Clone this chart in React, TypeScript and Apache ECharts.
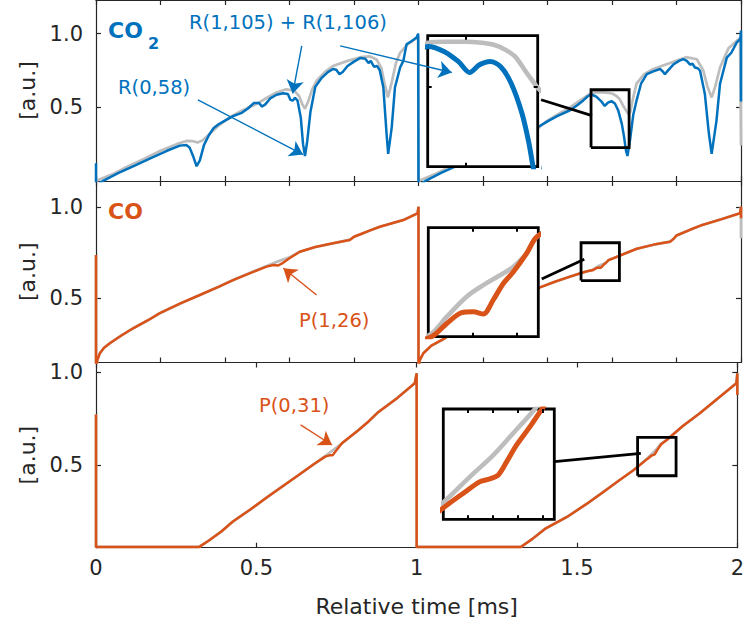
import React, { useEffect, useRef } from "react";
import * as echarts from "echarts";

const BLUE = "#0072BD";
const ORANGE = "#D95319";
const GRAY = "#BDBDBD";
const AX = "#262626";
const FONT = "DejaVu Sans";

// ---------- data (x: relative time [ms], y: [a.u.]) ----------
const co2Reference: number[][] = [
  [0, 0.0], [0.05, 0.045], [0.1, 0.1], [0.15, 0.152], [0.2, 0.205], [0.25, 0.25], [0.28, 0.272], [0.3, 0.27],
  [0.315, 0.262], [0.33, 0.275], [0.36, 0.335], [0.377, 0.37], [0.4, 0.41], [0.425, 0.445], [0.45, 0.475],
  [0.5, 0.525], [0.53, 0.565], [0.56, 0.6], [0.59, 0.622], [0.615, 0.613], [0.63, 0.575], [0.64, 0.52],
  [0.648, 0.49], [0.658, 0.54], [0.67, 0.62], [0.684, 0.68], [0.71, 0.74], [0.735, 0.78], [0.78, 0.815],
  [0.82, 0.84], [0.85, 0.845], [0.87, 0.825], [0.885, 0.765], [0.895, 0.66], [0.905, 0.567], [0.915, 0.65],
  [0.93, 0.8], [0.943, 0.87], [0.965, 0.925], [0.99, 0.962], [0.999, 0.975],
  [1.0, 0.0], [1.05, 0.045], [1.1, 0.1], [1.15, 0.152], [1.2, 0.205], [1.25, 0.25], [1.28, 0.272], [1.3, 0.27],
  [1.315, 0.262], [1.33, 0.275], [1.36, 0.335], [1.377, 0.37], [1.4, 0.41], [1.43, 0.45], [1.47, 0.5],
  [1.5, 0.545], [1.52, 0.575], [1.5357, 0.598], [1.5528, 0.601], [1.5727, 0.601], [1.59, 0.598],
  [1.602, 0.592], [1.613, 0.578], [1.6235, 0.557], [1.6377, 0.498], [1.6518, 0.452], [1.657, 0.47],
  [1.665, 0.56], [1.676, 0.66], [1.7, 0.725], [1.728, 0.76], [1.78, 0.8], [1.83, 0.84], [1.863, 0.826],
  [1.883, 0.75], [1.896, 0.64], [1.909, 0.567], [1.92, 0.64], [1.935, 0.77], [1.961, 0.9], [1.997, 0.97],
  [2.0, 0.24],
];

const co2Measured: number[][] = [
  [0, 0.12], [0.0, -0.03], [0.025, 0.005], [0.07, 0.055], [0.12, 0.105], [0.17, 0.155], [0.22, 0.205],
  [0.26, 0.24], [0.28, 0.245], [0.29, 0.228], [0.3, 0.175], [0.312, 0.1], [0.322, 0.14], [0.335, 0.245],
  [0.35, 0.31], [0.365, 0.36], [0.38, 0.385], [0.4, 0.41], [0.425, 0.44], [0.45, 0.46], [0.47, 0.49],
  [0.49, 0.53], [0.505, 0.53], [0.515, 0.505], [0.525, 0.52], [0.54, 0.56], [0.56, 0.585], [0.58, 0.595],
  [0.595, 0.59], [0.603, 0.55], [0.61, 0.545], [0.617, 0.565], [0.625, 0.545], [0.635, 0.43], [0.642, 0.25],
  [0.648, 0.17], [0.655, 0.27], [0.665, 0.47], [0.68, 0.64], [0.7, 0.7], [0.72, 0.74], [0.735, 0.76],
  [0.745, 0.755], [0.755, 0.725], [0.765, 0.74], [0.78, 0.78], [0.8, 0.81], [0.82, 0.835], [0.835, 0.83],
  [0.845, 0.8], [0.852, 0.815], [0.862, 0.775], [0.872, 0.78], [0.88, 0.75], [0.891, 0.635], [0.901, 0.32],
  [0.906, 0.184], [0.917, 0.364], [0.927, 0.635], [0.943, 0.77], [0.953, 0.815], [0.963, 0.928],
  [0.979, 0.95], [0.994, 0.973], [0.999, 1.0], [1.0, -0.03],
  [1.025, 0.005], [1.07, 0.055], [1.12, 0.105], [1.17, 0.155], [1.22, 0.205], [1.26, 0.24], [1.28, 0.245],
  [1.29, 0.228], [1.3, 0.175], [1.312, 0.1], [1.322, 0.14], [1.335, 0.245], [1.35, 0.31], [1.365, 0.36],
  [1.377, 0.375], [1.4, 0.405], [1.43, 0.44], [1.47, 0.48], [1.49, 0.51], [1.51, 0.545], [1.525, 0.575],
  [1.5357, 0.587], [1.5515, 0.572], [1.566, 0.542], [1.5775, 0.509], [1.5875, 0.532], [1.5983, 0.542],
  [1.609, 0.526], [1.6197, 0.476], [1.6306, 0.386], [1.6377, 0.296], [1.643, 0.21], [1.648, 0.17],
  [1.656, 0.28], [1.666, 0.45], [1.676, 0.545], [1.69, 0.66], [1.708, 0.725], [1.73, 0.745], [1.749, 0.76],
  [1.757, 0.745], [1.764, 0.725], [1.772, 0.745], [1.79, 0.79], [1.808, 0.815], [1.821, 0.827],
  [1.832, 0.815], [1.842, 0.79], [1.85, 0.795], [1.857, 0.77], [1.866, 0.765], [1.873, 0.748],
  [1.888, 0.59], [1.9, 0.33], [1.909, 0.184], [1.924, 0.41], [1.935, 0.66], [1.956, 0.837], [1.97, 0.87],
  [1.987, 0.94], [1.998, 0.965], [2.0, 1.02], [2.0, 0.54],
];

const coUpperReference: number[][] = [
  [0, 0.738], [0.0, 0.1], [0.004, 0.16], [0.012, 0.198], [0.025, 0.228], [0.043, 0.253], [0.08, 0.297],
  [0.115, 0.335], [0.16, 0.378], [0.198, 0.418], [0.26, 0.47], [0.322, 0.518], [0.38, 0.563], [0.425, 0.6],
  [0.48, 0.642], [0.529, 0.678], [0.56, 0.7], [0.6, 0.725], [0.632, 0.756], [0.68, 0.782], [0.735, 0.802],
  [0.787, 0.822], [0.8, 0.838], [0.82, 0.852], [0.85, 0.873], [0.88, 0.893], [0.953, 0.93], [0.997, 0.967],
  [1.0, 1.003], [1.0, 0.1],
  [1.004, 0.16], [1.015, 0.198], [1.04, 0.24], [1.077, 0.275], [1.115, 0.318], [1.16, 0.365], [1.2, 0.405],
  [1.26, 0.462], [1.322, 0.515], [1.377, 0.56], [1.425, 0.592], [1.47, 0.619], [1.5, 0.636], [1.52, 0.647],
  [1.5405, 0.6559], [1.5484, 0.666], [1.5574, 0.677], [1.565, 0.6834], [1.5741, 0.6899], [1.5787, 0.6935],
  [1.5847, 0.7009], [1.5893, 0.71], [1.6, 0.717], [1.625, 0.735], [1.677, 0.772], [1.73, 0.795],
  [1.78, 0.811], [1.79, 0.825], [1.8, 0.845], [1.84, 0.875], [1.88, 0.903], [1.94, 0.935], [1.997, 0.967],
  [2.0, 1.003], [2.0, 0.83],
];

const coUpperMeasured: number[][] = [
  [0, 0.738], [0.0, 0.1], [0.004, 0.16], [0.012, 0.198], [0.025, 0.228], [0.043, 0.253], [0.08, 0.297],
  [0.115, 0.335], [0.16, 0.378], [0.198, 0.418], [0.26, 0.47], [0.322, 0.518], [0.38, 0.563], [0.425, 0.6],
  [0.48, 0.64], [0.529, 0.674], [0.55, 0.683], [0.565, 0.68], [0.58, 0.695], [0.6, 0.72], [0.632, 0.756],
  [0.68, 0.782], [0.735, 0.802], [0.787, 0.82], [0.8, 0.838], [0.82, 0.852], [0.85, 0.873], [0.88, 0.893],
  [0.953, 0.93], [0.997, 0.967], [1.0, 1.003], [1.0, 0.1],
  [1.004, 0.16], [1.015, 0.198], [1.04, 0.24], [1.077, 0.275], [1.115, 0.318], [1.16, 0.365], [1.2, 0.405],
  [1.26, 0.462], [1.322, 0.515], [1.377, 0.56], [1.425, 0.592], [1.47, 0.619], [1.5, 0.636], [1.52, 0.647],
  [1.5415, 0.655], [1.5484, 0.6623], [1.5552, 0.6682], [1.5605, 0.6687], [1.565, 0.6675], [1.5695, 0.6752],
  [1.5741, 0.6843], [1.5787, 0.6908], [1.5847, 0.7009], [1.5893, 0.71], [1.6, 0.717], [1.625, 0.735],
  [1.677, 0.772], [1.73, 0.795], [1.78, 0.811], [1.79, 0.825], [1.8, 0.845], [1.84, 0.875], [1.88, 0.903],
  [1.94, 0.935], [1.997, 0.967], [2.0, 1.003], [2.0, 0.94],
];

const coLowerReference: number[][] = [
  [0, 0.773], [0.0, 0.058], [0.322, 0.058], [0.35, 0.09], [0.39, 0.14], [0.426, 0.194], [0.48, 0.258],
  [0.529, 0.32], [0.58, 0.383], [0.632, 0.446], [0.68, 0.505], [0.72, 0.555], [0.767, 0.617], [0.819, 0.689],
  [0.85, 0.735], [0.88, 0.785], [0.94, 0.862], [0.994, 0.941], [1.0, 0.995], [1.0, 0.058],
  [1.325, 0.058], [1.36, 0.1], [1.4, 0.155], [1.47, 0.221], [1.53, 0.29], [1.58, 0.352], [1.63, 0.415],
  [1.677, 0.473], [1.7203, 0.5378], [1.7308, 0.556], [1.7402, 0.5716], [1.7482, 0.5874], [1.757, 0.605],
  [1.7603, 0.613], [1.78, 0.637], [1.83, 0.71], [1.883, 0.779], [1.94, 0.86], [1.997, 0.941], [2.0, 0.995],
  [2.0, 0.878],
];

const coLowerMeasured: number[][] = [
  [0, 0.773], [0.0, 0.058], [0.322, 0.058], [0.35, 0.09], [0.39, 0.14], [0.426, 0.194], [0.48, 0.258],
  [0.529, 0.32], [0.58, 0.383], [0.632, 0.446], [0.68, 0.505], [0.715, 0.545], [0.728, 0.552],
  [0.738, 0.553], [0.748, 0.575], [0.767, 0.617], [0.819, 0.689], [0.85, 0.735], [0.88, 0.785],
  [0.94, 0.862], [0.994, 0.941], [1.0, 0.995], [1.0, 0.058],
  [1.325, 0.058], [1.36, 0.1], [1.4, 0.155], [1.47, 0.221], [1.53, 0.29], [1.58, 0.352], [1.63, 0.415],
  [1.677, 0.473], [1.7207, 0.5342], [1.7281, 0.5439], [1.7348, 0.5523], [1.7388, 0.5543], [1.7422, 0.5572],
  [1.7456, 0.5668], [1.7496, 0.5789], [1.755, 0.5922], [1.7593, 0.6036], [1.7626, 0.612], [1.78, 0.635],
  [1.83, 0.71], [1.883, 0.779], [1.94, 0.86], [1.997, 0.941], [2.0, 0.995], [2.0, 0.878],
];

// axes
const xRange = [0, 2];
const yRanges = [[0, 1.228], [0.147, 1.1445], [0.0537, 1.053]];
const yTickValues = [0.5, 1.0];
const xTickSteps = [0.2, 0.2, 0.5];

// zoomed insets: ranges and tick values
const insetXRanges = [[1.535, 1.6465], [1.54, 1.59], [1.72, 1.7648]];
const insetYRanges = [[0.227, 0.619], [0.655, 0.715], [0.525, 0.605]];
const insetXTicks = [[1.574], [1.56, 1.58], [1.73, 1.74, 1.75, 1.76]];
const insetYTicks = [[0.466], [], []];

// zoom markers in the main panels
const zoomBoxes = [
  { x: [1.535, 1.653], y: [0.227, 0.619] },
  { x: [1.504, 1.623], y: [0.597, 0.805] },
  { x: [1.689, 1.809], y: [0.442, 0.649] },
];
const connectors = [
  [[1.38, 0.551], [1.538, 0.443]],
  [[1.382, 0.606], [1.514, 0.714]],
  [[1.43, 0.518], [1.699, 0.563]],
];

// annotation arrows [from, to]
const arrows = [
  [
    [[0.316, 0.551], [0.642, 0.179]],
    [[0.638, 0.917], [0.61, 0.594]],
    [[0.757, 0.917], [1.103, 0.736]],
  ],
  [[[0.684, 0.518], [0.581, 0.665]]],
  [[[0.638, 0.716], [0.736, 0.608]]],
];

const panelData = [
  { ref: co2Reference, meas: co2Measured, color: BLUE },
  { ref: coUpperReference, meas: coUpperMeasured, color: ORANGE },
  { ref: coLowerReference, meas: coLowerMeasured, color: ORANGE },
];

// layout (pixels)
const mainGrids = [
  { left: 96, top: -1, width: 645, height: 182 },
  { left: 96, top: 181, width: 645, height: 181.5 },
  { left: 96, top: 362.5, width: 645, height: 185.2 },
];
const insetGrids = [
  { left: 427.7, top: 35.7, width: 110, height: 131 },
  { left: 428.3, top: 227.7, width: 110, height: 109 },
  { left: 443.3, top: 409, width: 111, height: 110.3 },
];

const texts = [
  { text: "CO", x: 108, y: 30, size: 22, weight: "bold", color: BLUE },
  { text: "2", x: 148, y: 43, size: 16, weight: "bold", color: BLUE },
  { text: "R(1,105) + R(1,106)", x: 189, y: 22, size: 19.5, weight: "normal", color: BLUE },
  { text: "R(0,58)", x: 118, y: 87, size: 19.5, weight: "normal", color: BLUE },
  { text: "CO", x: 108, y: 211, size: 22, weight: "bold", color: ORANGE },
  { text: "P(1,26)", x: 299, y: 320, size: 19.5, weight: "normal", color: ORANGE },
  { text: "P(0,31)", x: 259, y: 405, size: 19.5, weight: "normal", color: ORANGE },
];

function buildOption() {
  const grid: any[] = [];
  const xAxis: any[] = [];
  const yAxis: any[] = [];
  const series: any[] = [];
  const axLine = { show: true, onZero: false, lineStyle: { color: AX, width: 1.2 } };

  mainGrids.forEach((g, p) => {
    grid.push({ ...g, containLabel: false });
    const isBottom = p === 2;
    ["bottom", "top"].forEach((pos) => {
      const showLab = isBottom && pos === "bottom";
      xAxis.push({
        type: "value", gridIndex: p, position: pos, min: xRange[0], max: xRange[1], interval: xTickSteps[p],
        axisLine: axLine,
        axisTick: { show: true, inside: true, length: 5, lineStyle: { color: AX, width: 1.2 } },
        axisLabel: { show: showLab, color: AX, fontSize: 21, fontFamily: FONT, margin: 10, formatter: (v: number) => String(v) },
        splitLine: { show: false },
        name: showLab ? "Relative time [ms]" : "",
        nameLocation: "middle", nameGap: 48,
        nameTextStyle: { color: AX, fontSize: 22, fontFamily: FONT },
      });
    });
    ["left", "right"].forEach((pos) => {
      const showLab = pos === "left";
      yAxis.push({
        type: "value", gridIndex: p, position: pos, min: yRanges[p][0], max: yRanges[p][1],
        axisLine: axLine,
        axisTick: { show: true, inside: true, length: 5, customValues: yTickValues, lineStyle: { color: AX, width: 1.2 } },
        axisLabel: { show: showLab, customValues: yTickValues, color: AX, fontSize: 21, fontFamily: FONT, margin: 13, formatter: (v: number) => v.toFixed(1) },
        splitLine: { show: false },
        name: showLab ? "[a.u.]" : "",
        nameLocation: "middle", nameRotate: 90, nameGap: 57,
        nameTextStyle: { color: AX, fontSize: 22, fontFamily: FONT },
      });
    });
  });

  insetGrids.forEach((g, i) => {
    grid.push({ ...g, show: true, backgroundColor: "#ffffff", borderColor: "#000000", borderWidth: 2.8, z: 10 });
    const gi = 3 + i;
    ["bottom", "top"].forEach((pos) => {
      xAxis.push({
        type: "value", gridIndex: gi, position: pos, min: insetXRanges[i][0], max: insetXRanges[i][1],
        axisLine: { show: false },
        axisTick: { show: insetXTicks[i].length > 0, inside: true, length: 4, customValues: insetXTicks[i], lineStyle: { color: "#000", width: 2 } },
        axisLabel: { show: false, customValues: insetXTicks[i] },
        splitLine: { show: false }, z: 14,
      });
    });
    ["left", "right"].forEach((pos) => {
      yAxis.push({
        type: "value", gridIndex: gi, position: pos, min: insetYRanges[i][0], max: insetYRanges[i][1],
        axisLine: { show: false },
        axisTick: { show: insetYTicks[i].length > 0, inside: true, length: 4, customValues: insetYTicks[i], lineStyle: { color: "#000", width: 2 } },
        axisLabel: { show: false, customValues: insetYTicks[i] },
        splitLine: { show: false }, z: 14,
      });
    });
  });

  panelData.forEach((d, p) => {
    const ax = 2 * p;
    const iax = 6 + 2 * p;
    series.push({
      type: "line", xAxisIndex: ax, yAxisIndex: ax, data: d.ref, showSymbol: false, symbol: "none",
      lineStyle: { color: GRAY, width: 2.7 }, z: 2, silent: true,
    });
    series.push({
      type: "line", xAxisIndex: ax, yAxisIndex: ax, data: d.meas, showSymbol: false, symbol: "none",
      lineStyle: { color: d.color, width: 2.5 }, z: 3, silent: true,
      markLine: {
        silent: true, z: 30, symbol: ["none", "arrow"], symbolSize: 13,
        label: { show: false },
        lineStyle: { color: d.color, width: 1.4, type: "solid" },
        itemStyle: { color: d.color },
        data: arrows[p].map((a) => [
          { coord: a[0], symbol: "none" },
          { coord: a[1], symbol: "arrow", symbolSize: 13 },
        ]),
      },
    });
    const b = zoomBoxes[p];
    series.push({
      type: "line", xAxisIndex: ax, yAxisIndex: ax, showSymbol: false, symbol: "none", silent: true, z: 5,
      data: [[b.x[0], b.y[0]], [b.x[1], b.y[0]], [b.x[1], b.y[1]], [b.x[0], b.y[1]], [b.x[0], b.y[0]]],
      lineStyle: { color: "#000", width: 2.8, join: "miter" },
    });
    series.push({
      type: "line", xAxisIndex: ax, yAxisIndex: ax, showSymbol: false, symbol: "none", silent: true, z: 15,
      data: connectors[p], lineStyle: { color: "#000", width: 2.8 },
    });
    series.push({
      type: "line", xAxisIndex: iax, yAxisIndex: iax, data: d.ref, showSymbol: false, symbol: "none",
      smooth: 0.3, lineStyle: { color: GRAY, width: 4.6 }, z: 11, silent: true,
    });
    series.push({
      type: "line", xAxisIndex: iax, yAxisIndex: iax, data: d.meas, showSymbol: false, symbol: "none",
      smooth: 0.3, lineStyle: { color: d.color, width: 5 }, z: 12, silent: true,
    });
  });

  return {
    animation: false,
    backgroundColor: "#ffffff",
    textStyle: { fontFamily: FONT },
    grid, xAxis, yAxis, series,
    graphic: {
      elements: texts.map((t) => ({
        type: "text", x: t.x, y: t.y, z: 40, silent: true,
        style: { text: t.text, fill: t.color, fontSize: t.size, fontWeight: t.weight, fontFamily: FONT, align: "left", verticalAlign: "middle" },
      })),
    },
  };
}

export default function App() {
  const ref = useRef<HTMLDivElement>(null);
  useEffect(() => {
    if (!ref.current) return;
    const chart = echarts.init(ref.current, null, { renderer: "svg", width: 747, height: 634 });
    chart.setOption(buildOption() as any);
    return () => chart.dispose();
  }, []);
  return (
    <div
      ref={ref}
      style={{ position: "fixed", left: 0, top: 0, width: 747, height: 634, background: "#fff" }}
    />
  );
}
